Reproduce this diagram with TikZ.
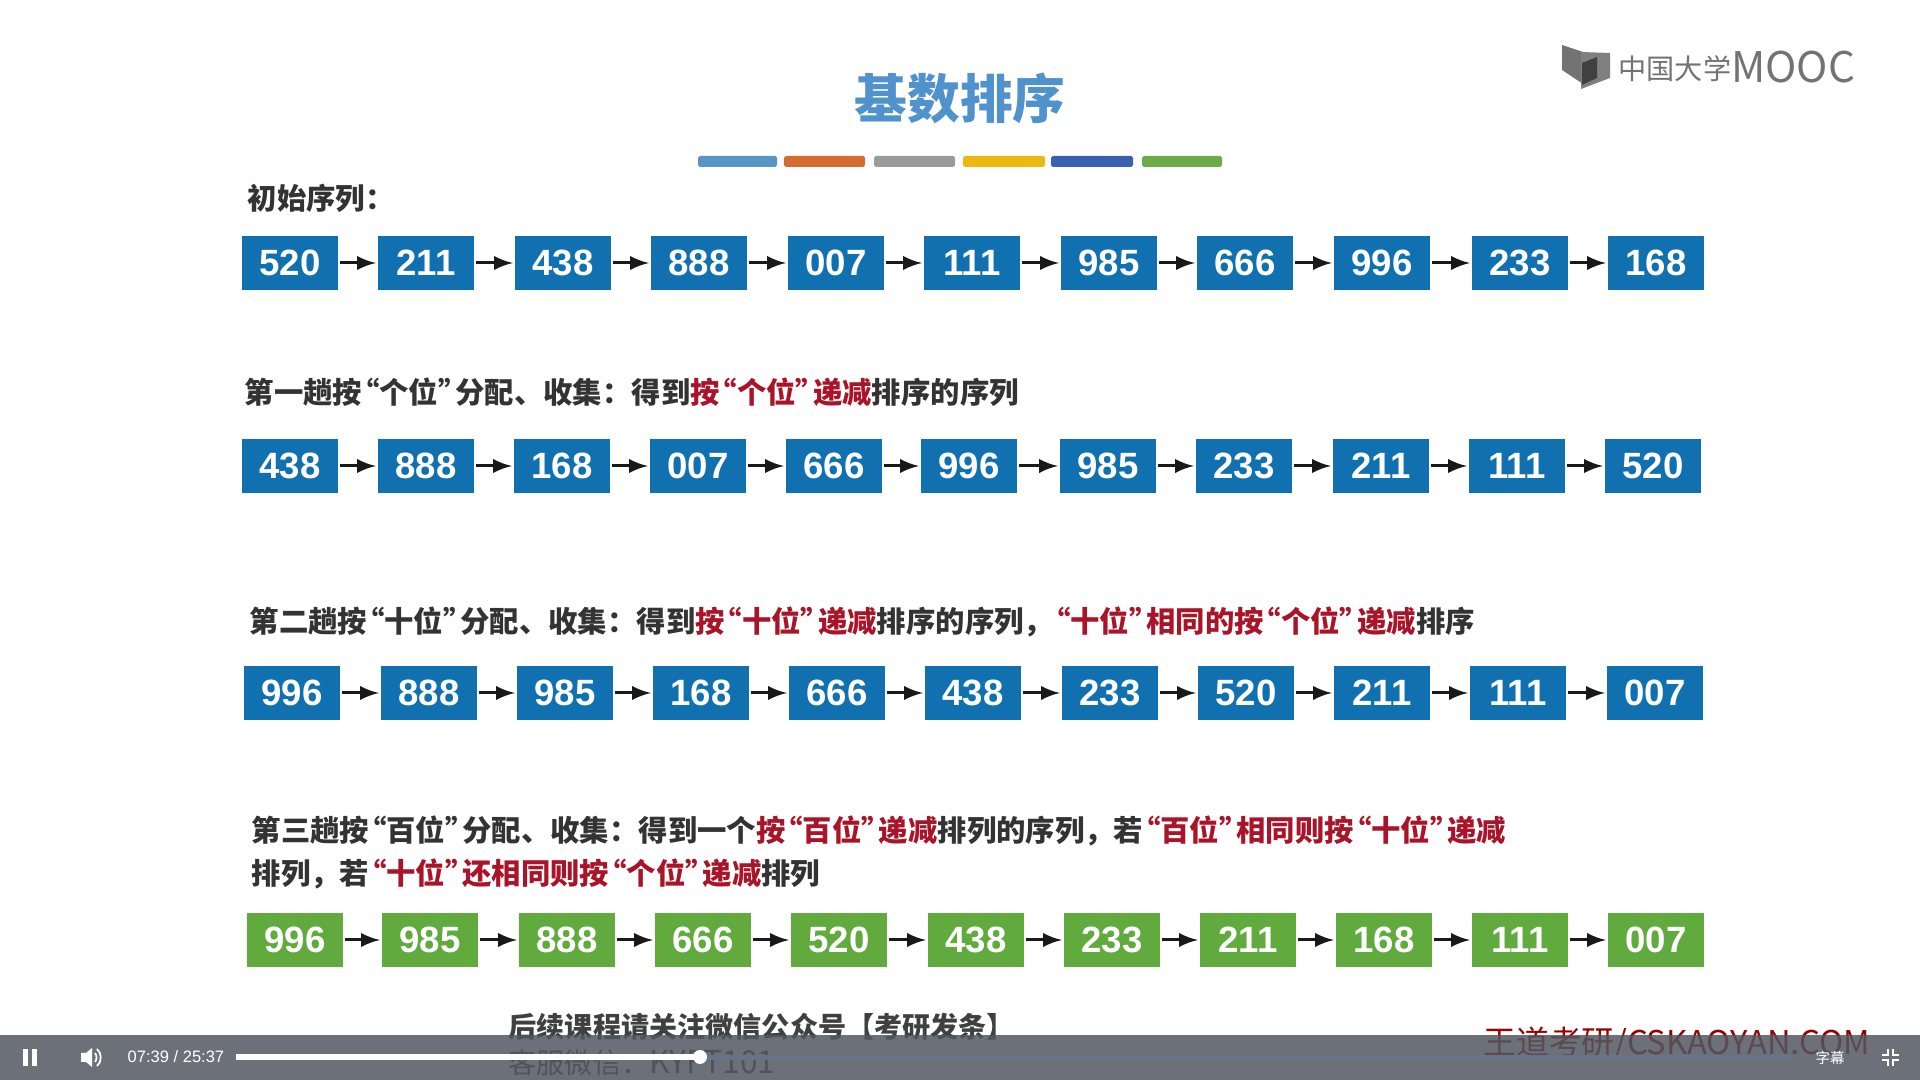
\documentclass[tikz,border=0pt]{standalone}
\usepackage{fontspec}
\setmainfont{Liberation Sans}
\newfontfamily\cjk{Noto Sans CJK SC}
\usepackage{tikz}
\usetikzlibrary{arrows}
\definecolor{boxblue}{RGB}{16,112,176}
\definecolor{boxgreen}{RGB}{96,170,62}
\definecolor{titleblue}{RGB}{80,146,204}
\definecolor{hotred}{RGB}{170,20,40}
\definecolor{barcol}{RGB}{82,88,97}
\definecolor{trackcol}{RGB}{102,116,138}
\newcommand{\qo}{\kern-.41em“}
\newcommand{\qc}{”\kern-.41em}
\newcommand{\hot}[1]{\textcolor{hotred}{#1}}

\begin{document}
\begin{tikzpicture}[x=0.01cm,y=-0.01cm,>=latex,
    num/.style={fill=boxblue,text=white,minimum width=0.96cm,minimum height=0.54cm,inner sep=0pt,outer sep=0.6pt,font=\fontsize{10.4}{12}\selectfont\bfseries},
    numg/.style={num,fill=boxgreen},
    lab/.style={anchor=west,inner sep=0pt,text=black!80,font=\fontsize{8.35}{10}\selectfont\cjk\bfseries},
    strip/.style={rounded corners=0.5pt}]
    \useasboundingbox (0,0) rectangle (1920,1080);

    \draw node at (960,98)[name=title,inner sep=0pt,text=titleblue,font=\fontsize{15}{18}\selectfont\cjk\bfseries]{基数排序};
    \fill[strip,fill={rgb,255:red,88;green,148;blue,196}] (698,156) rectangle (777,167);
    \fill[strip,fill={rgb,255:red,212;green,108;blue,50}] (784,156) rectangle (865,167);
    \fill[strip,fill={rgb,255:red,155;green,155;blue,155}] (874,156) rectangle (955,167);
    \fill[strip,fill={rgb,255:red,238;green,184;blue,20}] (963,156) rectangle (1045,167);
    \fill[strip,fill={rgb,255:red,60;green,96;blue,176}] (1051,156) rectangle (1133,167);
    \fill[strip,fill={rgb,255:red,108;green,172;blue,72}] (1142,156) rectangle (1222,167);

    \fill[black!55] (1562,45) -- (1583,52) -- (1583,84) -- (1562,70) -- cycle;
    \fill[black!50] (1581,52) -- (1610,53) -- (1610,78) -- (1581,89) -- cycle;
    \fill[black!75] (1582,63) -- (1597,57) -- (1597,78) -- (1582,85) -- cycle;
    \draw node at (1618,67)[name=mooc,anchor=west,inner sep=0pt,text=black!55,font=\fontsize{8}{10}\selectfont\cjk]{\raisebox{0.9pt}{中国大学}{\fontsize{12}{12}\selectfont MOOC}};

    \draw node at (247,198)[name=la,lab]{初始序列：};
    \draw node at (290,263)[name=a1,num]{520};
    \draw node at (426,263)[name=a2,num]{211};
    \draw node at (563,263)[name=a3,num]{438};
    \draw node at (699,263)[name=a4,num]{888};
    \draw node at (836,263)[name=a5,num]{007};
    \draw node at (972,263)[name=a6,num]{111};
    \draw node at (1109,263)[name=a7,num]{985};
    \draw node at (1245,263)[name=a8,num]{666};
    \draw node at (1382,263)[name=a9,num]{996};
    \draw node at (1520,263)[name=a10,num]{233};
    \draw node at (1656,263)[name=a11,num]{168};

    \draw node at (244,392)[name=lb,lab]{第一趟按\qo 个位\qc 分配、收集：得到\hot{按\qo 个位\qc 递减}排序的序列};
    \draw node at (290,466)[name=b1,num]{438};
    \draw node at (426,466)[name=b2,num]{888};
    \draw node at (562,466)[name=b3,num]{168};
    \draw node at (698,466)[name=b4,num]{007};
    \draw node at (834,466)[name=b5,num]{666};
    \draw node at (969,466)[name=b6,num]{996};
    \draw node at (1108,466)[name=b7,num]{985};
    \draw node at (1244,466)[name=b8,num]{233};
    \draw node at (1381,466)[name=b9,num]{211};
    \draw node at (1517,466)[name=b10,num]{111};
    \draw node at (1653,466)[name=b11,num]{520};

    \draw node at (249,622)[name=lc,lab]{第二趟按\qo 十位\qc 分配、收集：得到\hot{按\qo 十位\qc 递减}排序的序列，\hot{\qo 十位\qc 相同的按\qo 个位\qc 递减}排序};
    \draw node at (292,693)[name=c1,num]{996};
    \draw node at (429,693)[name=c2,num]{888};
    \draw node at (565,693)[name=c3,num]{985};
    \draw node at (701,693)[name=c4,num]{168};
    \draw node at (837,693)[name=c5,num]{666};
    \draw node at (973,693)[name=c6,num]{438};
    \draw node at (1110,693)[name=c7,num]{233};
    \draw node at (1246,693)[name=c8,num]{520};
    \draw node at (1382,693)[name=c9,num]{211};
    \draw node at (1518,693)[name=c10,num]{111};
    \draw node at (1655,693)[name=c11,num]{007};

    \draw node at (251,831)[name=ld,lab]{第三趟按\qo 百位\qc 分配、收集：得到一个\hot{按\qo 百位\qc 递减}排列的序列，若\hot{\qo 百位\qc 相同则按\qo 十位\qc 递减}};
    \draw node at (251,874)[name=le,lab]{排列，若\hot{\qo 十位\qc 还相同则按\qo 个位\qc 递减}排列};
    \draw node at (295,940)[name=d1,numg]{996};
    \draw node at (430,940)[name=d2,numg]{985};
    \draw node at (567,940)[name=d3,numg]{888};
    \draw node at (703,940)[name=d4,numg]{666};
    \draw node at (839,940)[name=d5,numg]{520};
    \draw node at (976,940)[name=d6,numg]{438};
    \draw node at (1112,940)[name=d7,numg]{233};
    \draw node at (1248,940)[name=d8,numg]{211};
    \draw node at (1384,940)[name=d9,numg]{168};
    \draw node at (1520,940)[name=d10,numg]{111};
    \draw node at (1656,940)[name=d11,numg]{007};

    \begin{scope}[line width=0.85pt,black!90]
      \draw[->](a1) -- (a2);
      \draw[->](a2) -- (a3);
      \draw[->](a3) -- (a4);
      \draw[->](a4) -- (a5);
      \draw[->](a5) -- (a6);
      \draw[->](a6) -- (a7);
      \draw[->](a7) -- (a8);
      \draw[->](a8) -- (a9);
      \draw[->](a9) -- (a10);
      \draw[->](a10) -- (a11);
      \draw[->](b1) -- (b2);
      \draw[->](b2) -- (b3);
      \draw[->](b3) -- (b4);
      \draw[->](b4) -- (b5);
      \draw[->](b5) -- (b6);
      \draw[->](b6) -- (b7);
      \draw[->](b7) -- (b8);
      \draw[->](b8) -- (b9);
      \draw[->](b9) -- (b10);
      \draw[->](b10) -- (b11);
      \draw[->](c1) -- (c2);
      \draw[->](c2) -- (c3);
      \draw[->](c3) -- (c4);
      \draw[->](c4) -- (c5);
      \draw[->](c5) -- (c6);
      \draw[->](c6) -- (c7);
      \draw[->](c7) -- (c8);
      \draw[->](c8) -- (c9);
      \draw[->](c9) -- (c10);
      \draw[->](c10) -- (c11);
      \draw[->](d1) -- (d2);
      \draw[->](d2) -- (d3);
      \draw[->](d3) -- (d4);
      \draw[->](d4) -- (d5);
      \draw[->](d5) -- (d6);
      \draw[->](d6) -- (d7);
      \draw[->](d7) -- (d8);
      \draw[->](d8) -- (d9);
      \draw[->](d9) -- (d10);
      \draw[->](d10) -- (d11);
    \end{scope}

    % notes under the player bar
    \draw node at (508,1027)[name=wechat,anchor=west,inner sep=0pt,text=black!75,font=\fontsize{8}{9}\selectfont\cjk\bfseries]{后续课程请关注微信公众号【考研发条】};
    \draw node at (508,1063)[name=service,anchor=west,inner sep=0pt,text=black!75,font=\fontsize{8}{9}\selectfont\cjk]{客服微信：{\fontsize{9}{9}\selectfont KYFT101}};
    \draw node at (1483,1044)[name=mark,anchor=west,inner sep=0pt,text=red!60!black,font=\fontsize{9.3}{11}\selectfont\cjk]{王道考研/CSKAOYAN.COM};

    \fill[barcol,opacity=0.85] (0,1035) rectangle (1920,1080);
    \fill[white] (23,1049) rectangle (28,1066);
    \fill[white] (32,1049) rectangle (37,1066);
    \fill[white] (81,1053) -- (86,1053) -- (92,1048) -- (92,1067) -- (86,1062) -- (81,1062) -- cycle;
    \draw[white,line width=0.5pt] (95,1053) .. controls (97,1055) and (97,1060) .. (95,1062);
    \draw[white,line width=0.5pt] (97,1049) .. controls (102,1053) and (102,1062) .. (97,1066);
    \draw node at (127,1057)[name=time,anchor=west,inner sep=0pt,text=white,font=\fontsize{4.7}{6}\selectfont]{07:39 / 25:37};
    \fill[trackcol] (700,1055) rectangle (1793,1060);
    \fill[white] (236,1054.5) rectangle (700,1060);
    \fill[white] (700,1057) circle (7);
    \draw node at (1830,1058)[name=subs,inner sep=0pt,text=white,font=\fontsize{4.1}{5}\selectfont\cjk]{字幕};
    \draw[white,line width=0.6pt] (1888,1049) -- (1888,1055) -- (1882,1055);
    \draw[white,line width=0.6pt] (1893,1049) -- (1893,1055) -- (1899,1055);
    \draw[white,line width=0.6pt] (1888,1066) -- (1888,1060) -- (1882,1060);
    \draw[white,line width=0.6pt] (1893,1066) -- (1893,1060) -- (1899,1060);
  \end{tikzpicture}
\end{document}
